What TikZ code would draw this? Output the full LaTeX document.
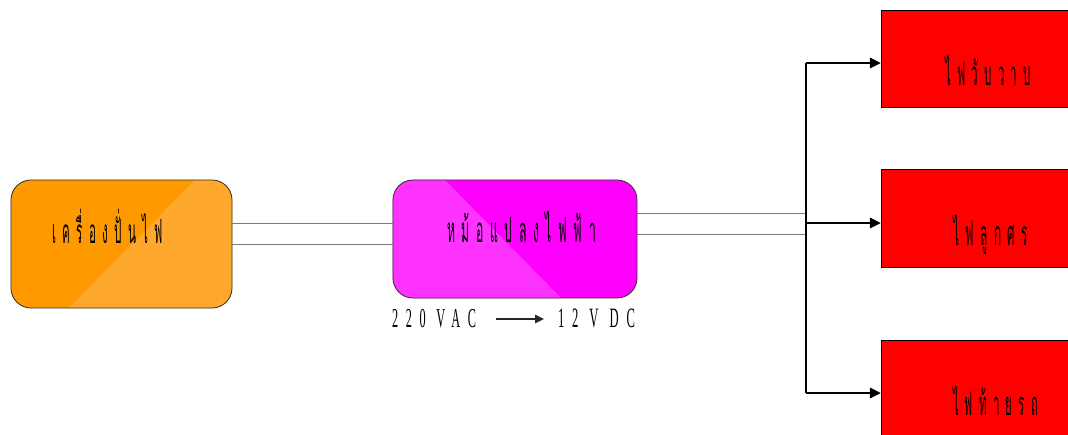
\documentclass[tikz,border=0pt]{standalone}
\usepackage{fontspec}
\usetikzlibrary{arrows.meta}
\newfontfamily\thaifont[Script=Thai,FakeStretch=0.35,LetterSpace=19]{Loma}
\newfontfamily\latfont[FakeStretch=0.45,LetterSpace=28]{Liberation Serif}
\newcommand\thaitxt[2]{\resizebox{#1}{!}{\thaifont #2}}
\newcommand\lattxt[2]{\resizebox{#1}{!}{\latfont #2}}
\definecolor{orA}{HTML}{FF9900}
\definecolor{orB}{HTML}{FFA82E}
\definecolor{mgA}{HTML}{FF00FF}
\definecolor{mgB}{HTML}{FF33FF}
\definecolor{wiregray}{HTML}{7A7A7A}
\definecolor{boxred}{HTML}{FF0000}
\begin{document}
\begin{tikzpicture}[x=0.025cm,y=-0.025cm,
  shell/.style={draw=none,rectangle,inner sep=0pt,outer sep=0pt},
  redbox/.style={shell,draw=black,line width=0.6pt,fill=boxred,minimum width=4.675cm},
  txt/.style={inner sep=0pt,outer sep=0pt,anchor=base west,text=black},
  wire/.style={draw=wiregray,line width=0.7pt},
  trunk/.style={draw=black,line width=0.9pt},
  arr/.style={draw=black,line width=1.8pt,-{Triangle[length=0.275cm,width=0.25cm]}},
  smallarr/.style={draw=black!85,line width=1.3pt,-{Triangle[length=0.22cm,width=0.2cm]}}]
\useasboundingbox (0,0) rectangle (1068,435);
% generator
\node[shell,fill=orA,rounded corners=0.5cm,minimum width=5.525cm,minimum height=3.2cm] (gen) at (121.5,244) {};
\begin{scope}
\clip[rounded corners=0.5cm] (gen.north west) rectangle (gen.south east);
\fill[orB] (195,180) -- (240,180) -- (240,310) -- (67,310) -- cycle;
\end{scope}
\draw[black!80,line width=0.6pt,rounded corners=0.5cm] (gen.north west) rectangle (gen.south east);
\node[txt] (gent) at (52,243) {\thaitxt{2.775cm}{เครื่องปั่นไฟ}};
% transformer
\node[shell,fill=mgA,rounded corners=0.5cm,minimum width=6.1cm,minimum height=2.95cm] (tr) at (515,239) {};
\begin{scope}
\clip[rounded corners=0.5cm] (tr.north west) rectangle (tr.south east);
\fill[mgB] (390,178) -- (443,178) -- (563,300) -- (390,300) -- cycle;
\end{scope}
\draw[black!80,line width=0.6pt,rounded corners=0.5cm] (tr.north west) rectangle (tr.south east);
\node[txt] (trt) at (447,242) {\thaitxt{3.725cm}{หม้อแปลงไฟฟ้า}};
% voltage label
\node[txt] (vin) at (392,327) {\lattxt{2.1cm}{220 VAC}};
\node[txt] (vout) at (558,327) {\lattxt{1.925cm}{12 V DC}};
\draw[smallarr,shorten <=0.5cm,shorten >=0.35cm] (vin.east |- 0,319) -- (vout.west |- 0,319);
% outputs
\node[redbox,minimum height=2.425cm] (r1) at (974.5,58.5) {};
\node[redbox,minimum height=2.45cm] (r2) at (974.5,218) {};
\node[redbox,minimum height=2.45cm] (r3) at (974.5,389) {};
\node[txt] (r1t) at (945,85) {\thaitxt{2.15cm}{ไฟวับวาบ}};
\node[txt] (r2t) at (953,245) {\thaitxt{1.875cm}{ไฟลูกศร}};
\node[txt] (r3t) at (953,415) {\thaitxt{2.125cm}{ไฟท้ายรถ}};
% wires
\draw[wire] (gen.east |- 0,223) -- (tr.west |- 0,223);
\draw[wire] (gen.east |- 0,244) -- (tr.west |- 0,244);
\coordinate (jtop) at (806,63);
\coordinate (jmid) at (806,223);
\coordinate (jbot) at (806,393);
\draw[wire] (tr.east |- 0,213) -- (jmid |- 0,213);
\draw[wire] (tr.east |- 0,234) -- (jmid |- 0,234);
\draw[trunk] (jtop) -- (jbot);
\draw[arr] (jtop) -- (r1.west |- jtop);
\draw[arr] (jmid) -- (r2.west |- jmid);
\draw[arr] (jbot) -- (r3.west |- jbot);
\end{tikzpicture}
\end{document}
